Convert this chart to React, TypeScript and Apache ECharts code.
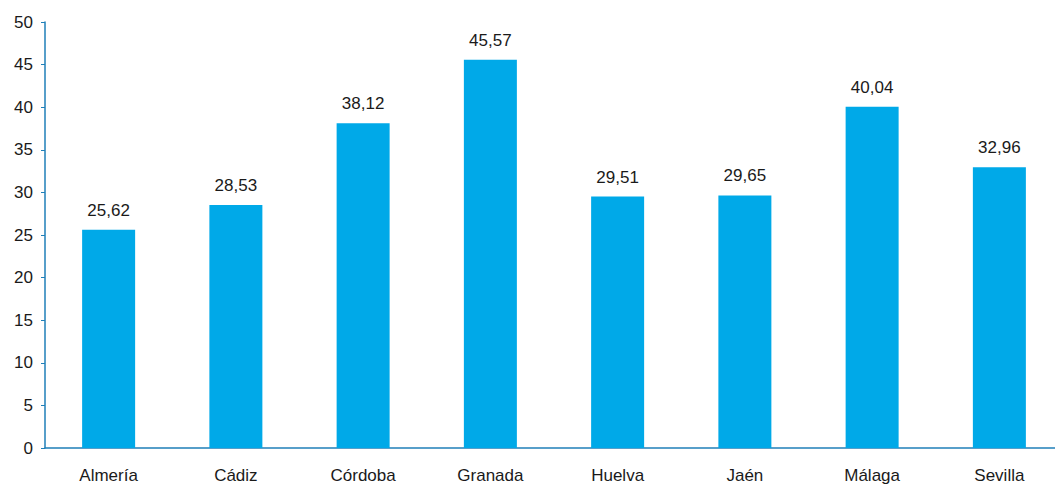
import React, { useEffect, useRef } from "react";
import * as echarts from "echarts";

const categories = ["Almería", "Cádiz", "Córdoba", "Granada", "Huelva", "Jaén", "Málaga", "Sevilla"];
const values = [25.62, 28.53, 38.12, 45.57, 29.51, 29.65, 40.04, 32.96];

export default function App() {
  const ref = useRef<HTMLDivElement>(null);
  useEffect(() => {
    const chart = echarts.init(ref.current!, null, { renderer: "svg" });
    const font = "'Liberation Sans', Arial, sans-serif";
    chart.setOption({
      animation: false,
      grid: { left: 37, top: 14, width: 1024, height: 426 },
      xAxis: {
        type: "category",
        data: categories,
        axisLine: { lineStyle: { color: "#1f7fb8", width: 1.5 } },
        axisTick: { show: false },
        axisLabel: { color: "#1a1a1a", fontSize: 17, fontFamily: font, margin: 19 },
      },
      yAxis: {
        type: "value",
        min: 0,
        max: 50,
        interval: 5,
        axisLine: { show: true, lineStyle: { color: "#1f7fb8", width: 1.5 } },
        axisTick: { show: true, length: 4, lineStyle: { color: "#1f7fb8" } },
        splitLine: { show: false },
        axisLabel: { color: "#1a1a1a", fontSize: 17, fontFamily: font, margin: 12 },
      },
      series: [
        {
          type: "bar",
          data: values,
          barWidth: 53,
          itemStyle: { color: "#00a9e8" },
          label: {
            show: true,
            position: "top",
            distance: 11,
            color: "#1a1a1a",
            fontSize: 17,
            fontFamily: font,
            formatter: (p: any) => p.value.toFixed(2).replace(".", ","),
          },
        },
      ],
    });
    return () => chart.dispose();
  }, []);
  return <div ref={ref} style={{ width: 1055, height: 480 }} />;
}
